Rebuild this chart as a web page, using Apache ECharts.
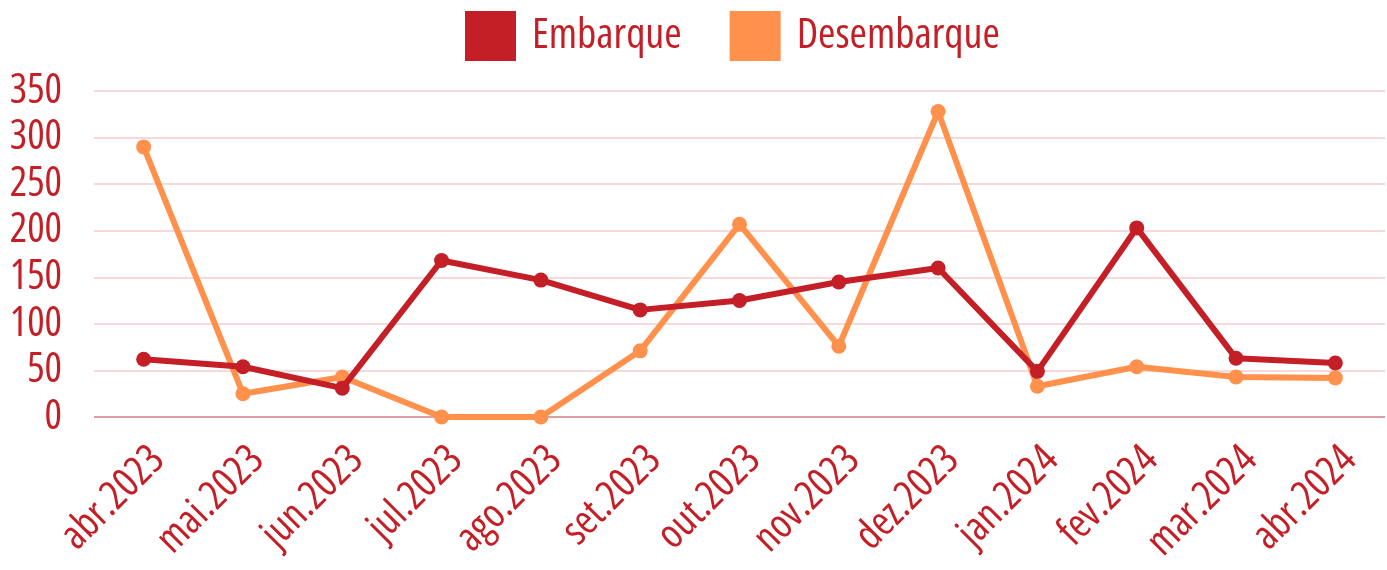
<!DOCTYPE html>
<html><head><meta charset="utf-8">
<script src="https://cdn.jsdelivr.net/npm/echarts@6/dist/echarts.min.js"></script>
<style>html,body{margin:0;padding:0;background:#fff}#c{width:1387px;height:570px}</style>
</head><body><div id="c"></div>
<script>
const categories = ['abr.2023','mai.2023','jun.2023','jul.2023','ago.2023','set.2023','out.2023','nov.2023','dez.2023','jan.2024','fev.2024','mar.2024','abr.2024'];
const embarque = [62, 54, 31, 168, 147, 115, 125, 145, 160, 49, 203, 63, 58];
const desembarque = [290, 25, 43, 0, 0, 71, 207, 76, 328, 33, 54, 43, 42];
const yTicks = [0, 50, 100, 150, 200, 250, 300, 350];

const FONT = '"Open Sans", sans-serif';
const TXT = '#C41E26';
const chart = echarts.init(document.getElementById('c'));
chart.setOption({
  animation: false,
  color: ['#C41E26', '#FF914D'],
  legend: {
    top: 6, left: 460,
    itemWidth: 51, itemHeight: 50, itemGap: 48,
    icon: 'rect',
    textStyle: { fontFamily: FONT, fontWeight: 'condensed', fontSize: 42, color: TXT, padding: [0,0,8,11] },
    data: ['Embarque', 'Desembarque']
  },
  grid: { left: 94, right: 2, top: 91, bottom: 153, outerBoundsMode: 'none' },
  xAxis: {
    type: 'category', data: categories, boundaryGap: true,
    axisLine: { show: false }, axisTick: { show: false },
    axisLabel: { rotate: 45, interval: 0, margin: 22, verticalAlign: 'top', fontFamily: FONT, fontWeight: 'condensed', fontSize: 41, color: TXT }
  },
  yAxis: {
    type: 'value', min: yTicks[0], max: yTicks[yTicks.length-1], interval: 50,
    axisLine: { show: false }, axisTick: { show: false },
    axisLabel: { margin: 32, fontFamily: FONT, fontWeight: 'condensed', fontSize: 41, color: TXT },
    splitLine: { lineStyle: { color: '#F5CDCF', width: 1.5 } }
  },
  series: [
    { name: 'Embarque', type: 'line', data: embarque, symbol: 'circle', symbolSize: 15, z: 3,
      lineStyle: { width: 6, color: '#C41E26' }, itemStyle: { color: '#C41E26' },
      markLine: { silent: true, symbol: 'none', label: { show: false }, z: 1,
        lineStyle: { color: '#D98A8E', width: 1.5, type: 'solid' }, data: [{ yAxis: 0 }] } },
    { name: 'Desembarque', type: 'line', data: desembarque, symbol: 'circle', symbolSize: 15, z: 2,
      lineStyle: { width: 6, color: '#FF914D' }, itemStyle: { color: '#FF914D' } }
  ]
});
</script></body></html>
